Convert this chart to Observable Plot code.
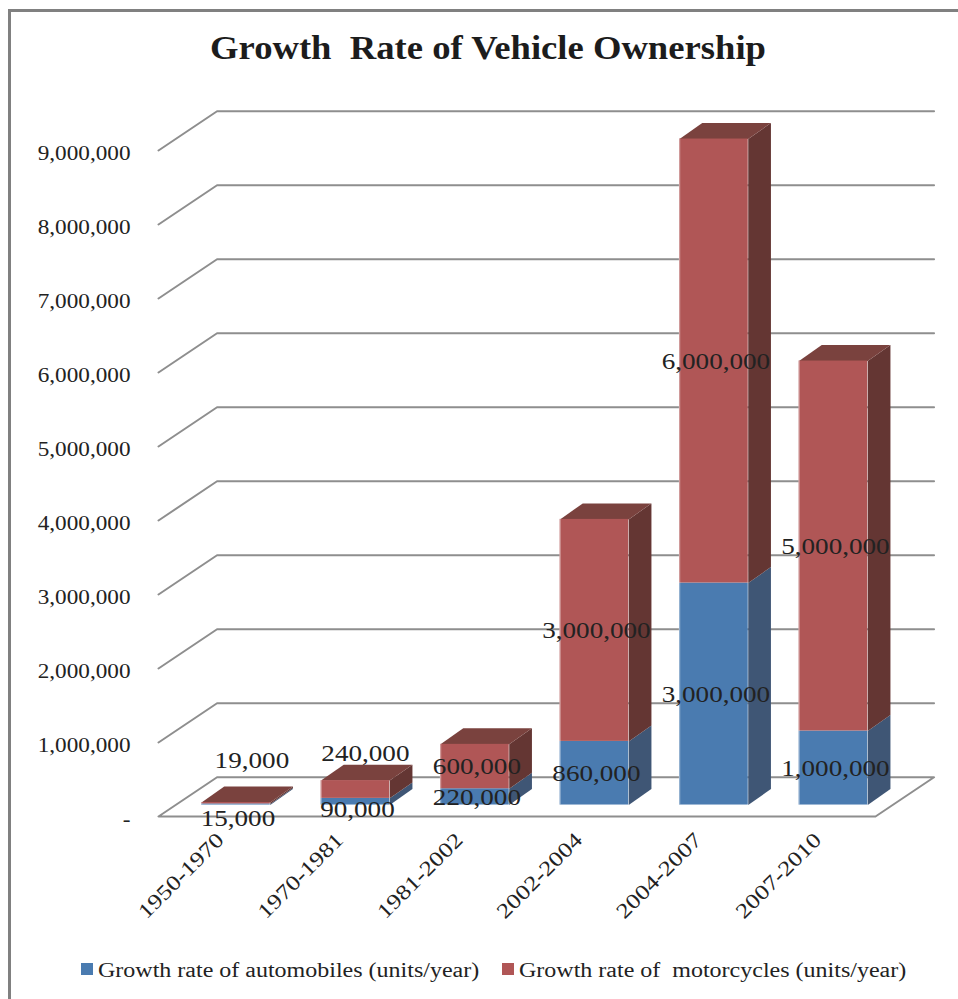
<!DOCTYPE html>
<html>
<head>
<meta charset="utf-8">
<script src="https://cdn.jsdelivr.net/npm/d3@7"></script>
<script src="https://cdn.jsdelivr.net/npm/@observablehq/plot@0.6"></script>
<style>
  html, body { margin: 0; padding: 0; background: #fff; }
  body { width: 958px; height: 999px; position: relative; overflow: hidden;
         font-family: "Liberation Serif", serif; color: #222; }
  #frame { position: absolute; left: 8px; top: 9px; width: 960px; height: 1000px;
           border-left: 3px solid #808080; border-top: 3px solid #808080; }
  #title { position: absolute; left: 0; top: 28px; width: 976px; text-align: center;
           font-size: 33px; font-weight: bold; white-space: pre; line-height: 40px; color: #1c1c1c;
           transform: scaleX(1.11); transform-origin: 488px 0; }
  #chart { position: absolute; left: 0; top: 100px; }
  .legend { position: absolute; top: 958px; font-size: 20px; line-height: 24px; white-space: pre;
            transform: scaleX(1.2); transform-origin: 0 0; }
  .swatch { position: absolute; top: 963px; width: 12px; height: 12px; }
</style>
</head>
<body>
<div id="frame"></div>
<div id="title">Growth  Rate of Vehicle Ownership</div>
<div id="chart"></div>
<div class="swatch" style="left:81px;background:#4a7bb0"></div>
<div class="legend" style="left:98px">Growth rate of automobiles (units/year)</div>
<div class="swatch" style="left:502px;background:#b05656"></div>
<div class="legend" style="left:519px">Growth rate of  motorcycles (units/year)</div>
<script>
const categories = ["1950-1970", "1970-1981", "1981-2002", "2002-2004", "2004-2007", "2007-2010"];
const automobiles = [15000, 90000, 220000, 860000, 3000000, 1000000];
const motorcycles = [19000, 240000, 600000, 3000000, 6000000, 5000000];
const yTicks = [0, 1e6, 2e6, 3e6, 4e6, 5e6, 6e6, 7e6, 8e6, 9e6];

// Pseudo-3D geometry, in data units (x: category slots, y: units/year)
const wallX = 0.49, wallY = 530000;      // depth of the chart box
const barX = 0.36, barW = 0.575;         // bar offset within slot, bar width
const liftY = 155000;                    // bars stand partway into the floor
const depthX = 0.19, depthY = 216000;    // depth of a bar

const blue = {front: "#4a7bb0", side: "#3f5675", top: "#3f5675"};
const red = {front: "#b05656", side: "#643633", top: "#7a423e"};

const segments = categories.flatMap((c, i) => {
  const a = automobiles[i], m = motorcycles[i];
  const x1 = i + barX, x2 = x1 + barW;
  return [
    {c, i, kind: "auto", value: a, x1, x2, y1: liftY, y2: liftY + a},
    {c, i, kind: "moto", value: m, x1, x2, y1: liftY + a, y2: liftY + a + m}
  ];
});
const sideFace = s => [
  {id: s.c, x: s.x2, y: s.y1},
  {id: s.c, x: s.x2 + depthX, y: s.y1 + depthY},
  {id: s.c, x: s.x2 + depthX, y: s.y2 + depthY},
  {id: s.c, x: s.x2, y: s.y2}
];
const topFace = s => [
  {id: s.c, x: s.x1, y: s.y2},
  {id: s.c, x: s.x1 + depthX, y: s.y2 + depthY},
  {id: s.c, x: s.x2 + depthX, y: s.y2 + depthY},
  {id: s.c, x: s.x2, y: s.y2}
];
const autos = segments.filter(s => s.kind === "auto");
const motos = segments.filter(s => s.kind === "moto");

const gridPath = yTicks.slice(1).flatMap(v => [
  {v, x: 0, y: v},
  {v, x: wallX, y: v + wallY},
  {v, x: 6 + wallX, y: v + wallY}
]);
const floorPath = [
  {x: wallX, y: wallY}, {x: 0, y: 0}, {x: 6, y: 0}, {x: 6 + wallX, y: wallY}, {x: wallX, y: wallY}
];

// Hand-moved data labels of the two smallest bars, as in the original
const moved = {
  "auto0": {x: 0, y: -190000},
  "moto0": {x: 0.117, y: 580000},
  "auto1": {x: 0, y: -108000},
  "moto1": {x: 0.067, y: 486000}
};
const labels = segments.map(s => {
  const n = moved[s.kind + s.i] || {x: 0, y: 0};
  return {
    text: d3.format(",")(s.value),
    x: s.x1 + barW / 2 + 0.017 + n.x,
    y: (s.y1 + s.y2) / 2 + n.y
  };
});

const gridStyle = {stroke: "#8e8e8e", strokeWidth: 2};
const faceOpts = {x: "x", y: "y", z: "id", stroke: "none"};
const serif = "Liberation Serif";

const chart = Plot.plot({
  width: 958,
  height: 830,
  marginLeft: 158,
  marginRight: 83,
  marginTop: 50,
  marginBottom: 114,
  x: {domain: [0, 6]},
  y: {domain: [0, 9000000]},
  style: {background: "transparent", color: "#222", fontFamily: serif},
  marks: [
    Plot.line(gridPath, {x: "x", y: "y", z: "v", ...gridStyle}),
    Plot.line(floorPath, {x: "x", y: "y", ...gridStyle}),
    Plot.axisY({ticks: yTicks, tickSize: 0, tickPadding: 28, dy: 3, label: null, fontSize: 20,
      fontFamily: serif, tickFormat: v => v === 0 ? "-" : d3.format(",")(v)}),
    Plot.axisX({ticks: categories.map((c, i) => i + 0.5), tickSize: 0, tickPadding: 20, dx: 2, tickRotate: -45,
      label: null, fontSize: 21, fontFamily: serif, tickFormat: v => categories[Math.floor(v)]}),
    ...categories.flatMap((c, i) => [
      Plot.line(sideFace(autos[i]), {...faceOpts, fill: blue.side}),
      Plot.line(sideFace(motos[i]), {...faceOpts, fill: red.side}),
      Plot.line(topFace(motos[i]), {...faceOpts, fill: red.top}),
      Plot.rect([autos[i]], {x1: "x1", x2: "x2", y1: "y1", y2: "y2", fill: blue.front}),
      Plot.rect([motos[i]], {x1: "x1", x2: "x2", y1: "y1", y2: "y2", fill: red.front}),
      Plot.ruleX([autos[i], motos[i]], {x: "x1", y1: "y1", y2: "y2", stroke: "#fff", strokeOpacity: 0.4, strokeWidth: 1.5})
    ]),
    Plot.text(labels, {x: "x", y: "y", text: "text", fontSize: 24, fontFamily: serif, fill: "#222"})
  ]
});
document.getElementById("chart").append(chart);

// The original's lettering is stretched sideways: widen glyphs, not only gaps
function stretch(selector, k) {
  chart.querySelectorAll(selector).forEach(t => {
    t.setAttribute("textLength", t.getComputedTextLength() * k);
    t.setAttribute("lengthAdjust", "spacingAndGlyphs");
  });
}
stretch('g[aria-label="y-axis tick label"] text', 1.16);
stretch('g[aria-label="x-axis tick label"] text', 1.22);
stretch('g[aria-label="text"] text', 1.13);
</script>
</body>
</html>
